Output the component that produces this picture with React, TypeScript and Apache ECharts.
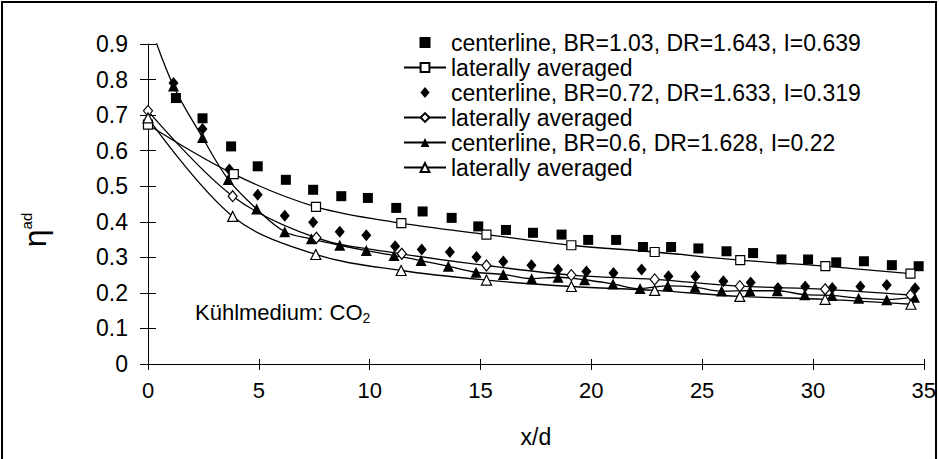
import React, { useEffect, useRef } from 'react';
import * as echarts from 'echarts';

const FONT = 'Liberation Sans, Arial, sans-serif';

const NAME_SQ = 'centerline, BR=1.03, DR=1.643, I=0.639';
const NAME_SQ_AV = 'laterally averaged (BR=1.03)';
const NAME_DI = 'centerline, BR=0.72, DR=1.633, I=0.319';
const NAME_DI_AV = 'laterally averaged (BR=0.72)';
const NAME_TR = 'centerline, BR=0.6, DR=1.628, I=0.22';
const NAME_TR_AV = 'laterally averaged (BR=0.6)';

const sqX = [1.26, 2.46, 3.75, 4.95, 6.22, 7.45, 8.72, 9.92, 11.2, 12.39, 13.7, 14.9, 16.15, 17.37, 18.66, 19.86, 21.12, 22.33, 23.6, 24.83, 26.1, 27.3, 28.58, 29.78, 31.05, 32.3, 33.56, 34.77];
const sqY = [0.748, 0.691, 0.612, 0.556, 0.518, 0.49, 0.472, 0.467, 0.439, 0.429, 0.411, 0.387, 0.377, 0.369, 0.364, 0.349, 0.349, 0.329, 0.329, 0.325, 0.317, 0.312, 0.294, 0.294, 0.286, 0.289, 0.278, 0.275];

const sqAvX = [0, 3.87, 7.58, 11.43, 15.27, 19.1, 22.86, 26.72, 30.56, 34.4];
const sqAvY = [0.673, 0.534, 0.442, 0.396, 0.364, 0.334, 0.315, 0.292, 0.275, 0.254];

const diX = [1.15, 2.46, 3.67, 4.95, 6.17, 7.45, 8.65, 9.85, 11.15, 12.35, 13.62, 14.82, 16.03, 17.3, 18.5, 19.78, 21.0, 22.27, 23.48, 24.7, 25.96, 27.19, 28.42, 29.65, 30.87, 32.14, 33.33, 34.61];
const diY = [0.79, 0.661, 0.547, 0.476, 0.417, 0.399, 0.372, 0.362, 0.331, 0.322, 0.315, 0.301, 0.288, 0.278, 0.266, 0.26, 0.256, 0.266, 0.247, 0.246, 0.233, 0.229, 0.214, 0.218, 0.214, 0.218, 0.222, 0.213];

const diAvX = [0, 3.82, 7.6, 11.45, 15.27, 19.1, 22.86, 26.7, 30.55, 34.4];
const diAvY = [0.712, 0.472, 0.355, 0.31, 0.277, 0.25, 0.238, 0.219, 0.21, 0.194];

const trX = [0, 1.15, 2.46, 3.62, 4.9, 6.17, 7.37, 8.65, 9.85, 11.1, 12.32, 13.55, 14.8, 16.03, 17.31, 18.5, 19.7, 20.98, 22.2, 23.45, 24.68, 25.88, 27.16, 28.39, 29.63, 30.86, 32.06, 33.33, 34.58];
const trY = [0.97, 0.782, 0.637, 0.519, 0.436, 0.372, 0.352, 0.334, 0.319, 0.305, 0.291, 0.275, 0.258, 0.252, 0.24, 0.244, 0.237, 0.225, 0.212, 0.22, 0.216, 0.205, 0.206, 0.206, 0.195, 0.193, 0.185, 0.181, 0.188];

const trAvX = [0, 3.82, 7.57, 11.42, 15.27, 19.1, 22.86, 26.7, 30.55, 34.42];
const trAvY = [0.692, 0.415, 0.308, 0.263, 0.236, 0.218, 0.207, 0.19, 0.182, 0.168];

const xTicks = { min: 0, max: 35, interval: 5 };
const yTicks = { min: 0, max: 0.9, interval: 0.1 };

const zip = (xs: number[], ys: number[]) => xs.map((x, i) => [x, ys[i]]);

export default function App() {
  const ref = useRef<HTMLDivElement>(null);
  useEffect(() => {
    if (!ref.current) return;
    const chart = echarts.init(ref.current, undefined, { renderer: 'svg' });
    const blk = '#000';
    const openStyle = { color: '#fff', borderColor: blk, borderWidth: 1.2, opacity: 1 };
    const lineStyle = { color: blk, width: 1.3 };
    const smooth = 0.35;
    chart.setOption({
      animation: false,
      backgroundColor: '#fff',
      textStyle: { fontFamily: FONT },
      grid: { left: 148, right: 13, top: 44, bottom: 95 },
      legend: {
        show: true,
        orient: 'vertical',
        left: 398,
        top: 25,
        itemWidth: 42,
        itemHeight: 11,
        itemGap: 0,
        symbolKeepAspect: true,
        selectedMode: false,
        textStyle: { fontSize: 23, color: blk, fontFamily: FONT, lineHeight: 25 },
        formatter: (name: string) => (name.indexOf('laterally') === 0 ? 'laterally averaged' : name),
        data: [
          { name: NAME_SQ, icon: 'path://M0,0L10,0L10,10L0,10Z' },
          NAME_SQ_AV,
          { name: NAME_DI, icon: 'path://M5,0L10,6L5,12L0,6Z' },
          NAME_DI_AV,
          NAME_TR,
          NAME_TR_AV,
        ],
      },
      xAxis: [
        {
          type: 'value',
          ...xTicks,
          axisLine: { show: true, onZero: false, lineStyle: { color: blk, width: 1 } },
          axisTick: { show: true, length: 6, lineStyle: { color: blk, width: 1 } },
          axisLabel: { color: blk, fontSize: 22, margin: 15, fontFamily: FONT },
          splitLine: { show: false },
          name: 'x/d',
          nameLocation: 'middle',
          nameGap: 61,
          nameTextStyle: { color: blk, fontSize: 23, fontFamily: FONT },
        },
        {
          type: 'value',
          ...xTicks,
          position: 'bottom',
          axisLine: { show: false },
          axisTick: { show: true, inside: true, length: 5, lineStyle: { color: blk, width: 1 } },
          axisLabel: { show: false },
          splitLine: { show: false },
        },
      ],
      yAxis: [
        {
          type: 'value',
          ...yTicks,
          axisLine: { show: true, onZero: false, lineStyle: { color: blk, width: 1 } },
          axisTick: { show: true, length: 8, lineStyle: { color: blk, width: 1 } },
          axisLabel: { color: blk, fontSize: 23, margin: 20, fontFamily: FONT },
          splitLine: { show: false },
        },
        {
          type: 'value',
          ...yTicks,
          position: 'left',
          axisLine: { show: false },
          axisTick: { show: true, inside: true, length: 8, lineStyle: { color: blk, width: 1 } },
          axisLabel: { show: false },
          splitLine: { show: false },
        },
      ],
      graphic: [
        {
          type: 'rect',
          shape: { x: 2, y: 2, width: 934, height: 480 },
          style: { fill: 'none', stroke: blk, lineWidth: 2 },
          silent: true,
        },
        {
          type: 'text',
          x: 35,
          y: 230,
          rotation: Math.PI / 2,
          style: {
            text: '{e|η}{s|ad}',
            align: 'center',
            verticalAlign: 'middle',
            fill: blk,
            rich: {
              e: { fontSize: 32, fontFamily: FONT, fill: blk, lineHeight: 32 },
              s: { fontSize: 15, fontFamily: FONT, fill: blk, verticalAlign: 'top', lineHeight: 15 },
            },
          },
        },
        {
          type: 'text',
          x: 195,
          y: 312,
          style: {
            text: 'Kühlmedium: CO{s|2}',
            align: 'left',
            verticalAlign: 'middle',
            fill: blk,
            fontSize: 22,
            fontFamily: FONT,
            rich: {
              s: { fontSize: 14, fontFamily: FONT, fill: blk, verticalAlign: 'bottom', padding: [12, 0, 0, 0] },
            },
          },
        },
      ],
      series: [
        {
          name: NAME_SQ,
          type: 'scatter',
          symbol: 'rect',
          symbolSize: 10,
          itemStyle: { color: blk, opacity: 1 },
          data: zip(sqX, sqY),
          z: 3,
        },
        {
          name: NAME_SQ_AV,
          type: 'line',
          smooth,
          symbol: 'rect',
          symbolSize: 9,
          showAllSymbol: true,
          itemStyle: openStyle,
          lineStyle,
          data: zip(sqAvX, sqAvY),
          z: 4,
        },
        {
          name: NAME_DI,
          type: 'scatter',
          symbol: 'diamond',
          symbolSize: [10, 12],
          itemStyle: { color: blk, opacity: 1 },
          data: zip(diX, diY),
          z: 3,
        },
        {
          name: NAME_DI_AV,
          type: 'line',
          smooth,
          symbol: 'diamond',
          symbolSize: [9, 11],
          showAllSymbol: true,
          itemStyle: openStyle,
          lineStyle,
          data: zip(diAvX, diAvY),
          z: 4,
        },
        {
          name: NAME_TR,
          type: 'line',
          smooth,
          symbol: 'triangle',
          symbolSize: [11, 11],
          showAllSymbol: true,
          itemStyle: { color: blk, opacity: 1 },
          lineStyle,
          data: zip(trX, trY).map((p, i) => (i === 0 ? { value: p, symbol: 'none' } : p)),
          z: 3,
        },
        {
          name: NAME_TR_AV,
          type: 'line',
          smooth,
          symbol: 'triangle',
          symbolSize: [10, 10],
          showAllSymbol: true,
          itemStyle: openStyle,
          lineStyle,
          data: zip(trAvX, trAvY),
          z: 4,
        },
      ],
    });
    return () => chart.dispose();
  }, []);
  return <div ref={ref} style={{ width: 939, height: 459, position: 'absolute', left: 0, top: 0 }} />;
}
